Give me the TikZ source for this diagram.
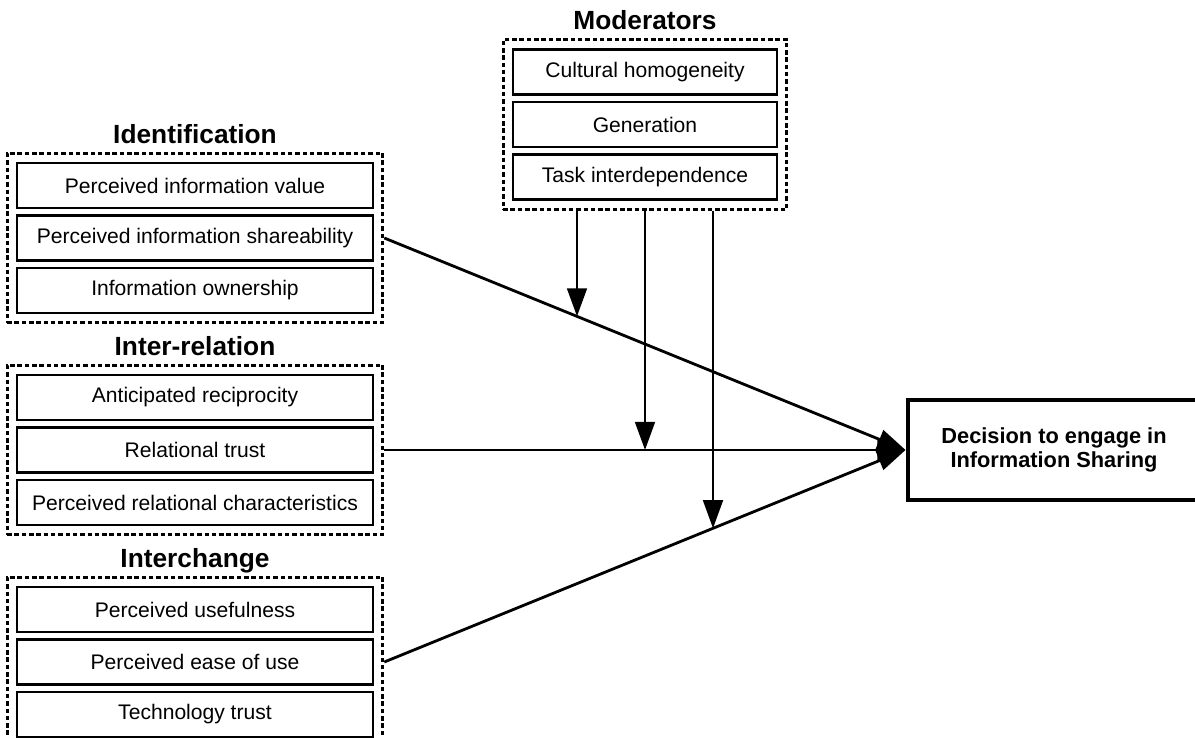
\documentclass[tikz,border=0pt]{standalone}
\usepackage{fontspec}
\setmainfont{Liberation Sans}
\usetikzlibrary{arrows.meta,positioning,fit,calc,intersections}

\tikzset{
  item/.style={draw,line width=2.1pt,minimum width=8.9cm,minimum height=1.125cm,inner sep=0pt,font=\fontsize{15}{17}\selectfont},
  group/.style={draw,line width=2pt,dash pattern=on 3.2pt off 2pt,inner sep=0.21cm},
  grouptitle/.style={font=\bfseries\fontsize{18.7}{20}\selectfont,inner sep=0pt,text depth=0pt},
  link/.style={line width=2pt,-{Triangle[length=20pt,width=14pt]}}
}

\begin{document}
\begin{tikzpicture}
  \useasboundingbox (0,0) rectangle (29.875,-18.45);

  \foreach \txt [count=\i] in {Perceived information value,Perceived information shareability,Information ownership}
    \node[item] (id\i) at (4.875,{-4.6375-1.3125*(\i-1)}) {\txt};
  \node[group,fit=(id1)(id3)] (idgrp) {};
  \node[grouptitle,above=0.2cm of idgrp] (idtitle) {Identification};

  \foreach \txt [count=\i] in {Anticipated reciprocity,Relational trust,Perceived relational characteristics}
    \node[item] (ir\i) at (4.875,{-9.9375-1.3125*(\i-1)}) {\txt};
  \node[group,fit=(ir1)(ir3)] (irgrp) {};
  \node[grouptitle,above=0.2cm of irgrp] (irtitle) {Inter-relation};

  \foreach \txt [count=\i] in {Perceived usefulness,Perceived ease of use,Technology trust}
    \node[item] (ic\i) at (4.875,{-15.2375-1.3125*(\i-1)}) {\txt};
  \node[group,fit=(ic1)(ic3)] (icgrp) {};
  \node[grouptitle,above=0.2cm of icgrp] (ictitle) {Interchange};

  \foreach \txt [count=\i] in {Cultural homogeneity,Generation,Task interdependence}
    \node[item,minimum width=6.6cm] (mod\i) at (16.125,{-1.8-1.3125*(\i-1)}) {\txt};
  \node[group,fit=(mod1)(mod3)] (modgrp) {};
  \node[grouptitle,above=0.2cm of modgrp] (modtitle) {Moderators};

  \node[draw,line width=3.5pt,minimum width=7.3cm,minimum height=2.5cm,align=center,
        font=\bfseries\fontsize{15.5}{17}\selectfont] (dec) at (26.35,-11.25)
        {Decision to engage in\\Information Sharing};

  \draw[link,name path=idline] (idgrp.east) -- (dec.west);
  \draw[link] (irgrp.east) -- (dec.west);
  \draw[link,name path=icline] (icgrp.east) -- (dec.west);

  \coordinate (ma) at ($(modgrp.south)+(-1.7,0)$);
  \coordinate (mb) at (modgrp.south);
  \coordinate (mc) at ($(modgrp.south)+(1.7,0)$);
  \path[name path=va] (ma) -- ++(0,-10);
  \path[name path=vc] (mc) -- ++(0,-10);
  \draw[link,name intersections={of=va and idline}] (ma) -- (intersection-1);
  \draw[link] (mb) -- (mb |- dec.west);
  \draw[link,name intersections={of=vc and icline}] (mc) -- (intersection-1);
\end{tikzpicture}
\end{document}
